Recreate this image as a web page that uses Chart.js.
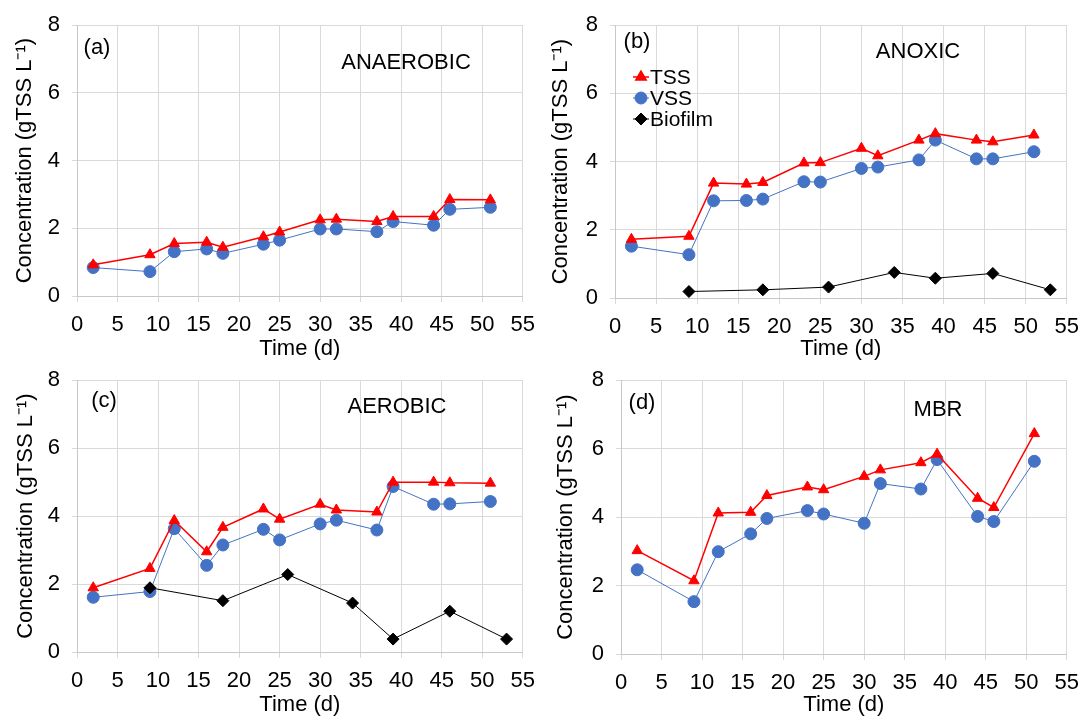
<!DOCTYPE html>
<html>
<head>
<meta charset="utf-8">
<script src="https://cdn.jsdelivr.net/npm/chart.js@4/dist/chart.umd.min.js"></script>
<style>
body{margin:0;background:#fff;width:1089px;height:721px;position:relative;overflow:hidden}
canvas{position:absolute}
</style>
</head>
<body>
<canvas id="ca" width="545" height="365" style="left:0;top:0"></canvas>
<canvas id="cb" width="544" height="365" style="left:545px;top:0"></canvas>
<canvas id="cc" width="545" height="366" style="left:0;top:355px"></canvas>
<canvas id="cd" width="544" height="366" style="left:545px;top:355px"></canvas>
<script>
// sampling days
const days = [2, 9, 12, 16, 18, 23, 25, 30, 32, 37, 39, 44, 46, 51];
const biofilmDays = [9, 18, 26, 34, 39, 46, 53];

// (a) anaerobic
const tssA = [0.92, 1.22, 1.55, 1.59, 1.44, 1.75, 1.89, 2.25, 2.27, 2.2, 2.35, 2.35, 2.85, 2.84];
const vssA = [0.84, 0.72, 1.31, 1.39, 1.26, 1.53, 1.65, 1.98, 1.98, 1.9, 2.2, 2.09, 2.56, 2.62];

// (b) anoxic
const tssB = [1.72, 1.81, 3.37, 3.34, 3.39, 3.96, 3.97, 4.39, 4.17, 4.63, 4.82, 4.63, 4.58, 4.78];
const vssB = [1.52, 1.27, 2.85, 2.86, 2.9, 3.41, 3.4, 3.8, 3.84, 4.05, 4.63, 4.08, 4.08, 4.29];
const bioB = [0.19, 0.24, 0.32, 0.75, 0.58, 0.72, 0.24];

// (c) aerobic
const tssC = [1.89, 2.46, 3.87, 2.95, 3.67, 4.21, 3.91, 4.35, 4.18, 4.12, 5.0, 5.0, 4.98, 4.97];
const vssC = [1.61, 1.78, 3.63, 2.55, 3.15, 3.61, 3.3, 3.77, 3.88, 3.59, 4.87, 4.35, 4.36, 4.43];
const bioC = [1.89, 1.51, 2.28, 1.44, 0.38, 1.2, 0.38];

// (d) MBR
const tssD = [3.02, 2.14, 4.12, 4.14, 4.63, 4.88, 4.8, 5.19, 5.38, 5.59, 5.84, 4.55, 4.28, 6.44];
const vssD = [2.46, 1.53, 2.99, 3.51, 3.96, 4.19, 4.09, 3.82, 4.98, 4.82, 5.68, 4.02, 3.87, 5.63];

const xTicks = [0, 5, 10, 15, 20, 25, 30, 35, 40, 45, 50, 55];
const yTicks = [0, 2, 4, 6, 8];

const FONT = "'Liberation Sans', Arial, sans-serif";

function pts(xs, ys){ return xs.map((x, i) => ({x: x, y: ys[i]})); }

function tss(vals){
  return {label: 'TSS', data: pts(days, vals), borderColor: '#ff0000', backgroundColor: '#ff0000',
    borderWidth: 1.5, pointStyle: 'triangle', pointRadius: 6, pointBorderWidth: 1, order: 1};
}
function vss(vals){
  return {label: 'VSS', data: pts(days, vals), borderColor: '#4472c4', backgroundColor: '#4472c4',
    borderWidth: 1, pointStyle: 'circle', pointRadius: 6, pointBorderWidth: 1, order: 2};
}
function bio(vals){
  return {label: 'Biofilm', data: pts(biofilmDays, vals), borderColor: '#000', backgroundColor: '#000',
    borderWidth: 1, pointStyle: 'rectRot', pointRadius: 6, pointBorderWidth: 1, order: 0};
}

// text labels + legend drawn on the canvas
const panelText = {
  id: 'panelText',
  afterDraw(chart, args, o){
    const ctx = chart.ctx;
    ctx.save();
    ctx.fillStyle = '#000';
    ctx.font = '22px ' + FONT;
    ctx.textAlign = 'center';
    ctx.textBaseline = 'middle';
    ctx.fillText(o.tag, o.tagX, o.tagY);
    ctx.fillText(o.name, o.nameX, o.nameY);
    if (o.legend) {
      ctx.textAlign = 'left';
      ctx.font = '21px ' + FONT;
      chart.data.datasets.forEach((ds, i) => {
        const y = o.legend.y + i * 21;
        const x = o.legend.x;
        ctx.strokeStyle = ds.borderColor;
        ctx.lineWidth = ds.borderWidth;
        ctx.beginPath();
        ctx.moveTo(x - 8, y);
        ctx.lineTo(x + 8, y);
        ctx.stroke();
        ctx.fillStyle = ds.backgroundColor;
        Chart.helpers.drawPoint(ctx, {pointStyle: ds.pointStyle, radius: 6, borderWidth: 1, rotation: 0}, x, y);
        ctx.fillStyle = '#000';
        ctx.fillText(ds.label, x + 9, y + 1);
      });
    }
    ctx.restore();
  }
};

function makeChart(id, datasets, area, w, h, txt, yTitleX){
  new Chart(document.getElementById(id), {
    type: 'line',
    data: {datasets: datasets},
    plugins: [panelText],
    options: {
      responsive: false,
      animation: false,
      layout: {padding: {left: 0, top: area.t, right: w - area.r, bottom: 0}},
      plugins: {legend: {display: false}, tooltip: {enabled: false}, panelText: txt},
      scales: {
        x: {
          type: 'linear', min: 0, max: 55,
          afterBuildTicks: s => { s.ticks = xTicks.map(v => ({value: v})); },
          afterFit: s => { s.height = h - area.b; },
          grid: {color: '#d9d9d9', lineWidth: 1, tickLength: 6},
          border: {color: '#c8c8c8'},
          ticks: {color: '#000', font: {family: FONT, size: 22}, padding: 10, maxRotation: 0},
          title: {display: true, text: 'Time (d)', color: '#000', font: {family: FONT, size: 22}, padding: {top: 0, bottom: 3}}
        },
        y: {
          min: 0, max: 8,
          afterBuildTicks: s => { s.ticks = yTicks.map(v => ({value: v})); },
          afterFit: s => { s.width = area.l; },
          grid: {color: '#d9d9d9', lineWidth: 1, tickLength: 5},
          border: {color: '#c8c8c8'},
          ticks: {color: '#000', font: {family: FONT, size: 22}, padding: 12},
          title: {display: true, text: 'Concentration (gTSS L\u207B\u00B9)', color: '#000', font: {family: FONT, size: 22}, padding: {top: yTitleX - 13, bottom: 0}}
        }
      }
    }
  });
}

makeChart('ca', [tss(tssA), vss(vssA)], {l: 77, t: 24, r: 530, b: 296}, 545, 365,
  {tag: '(a)', tagX: 97, tagY: 48, name: 'ANAEROBIC', nameX: 406, nameY: 63}, 25);
makeChart('cb', [tss(tssB), vss(vssB), bio(bioB)], {l: 70, t: 19, r: 523, b: 298}, 544, 365,
  {tag: '(b)', tagX: 92, tagY: 42, name: 'ANOXIC', nameX: 373, nameY: 52, legend: {x: 96, y: 77}}, 16);
makeChart('cc', [tss(tssC), vss(vssC), bio(bioC)], {l: 77, t: 19, r: 531, b: 297}, 545, 366,
  {tag: '(c)', tagX: 104, tagY: 46, name: 'AEROBIC', nameX: 397, nameY: 52}, 26);
makeChart('cd', [tss(tssD), vss(vssD)], {l: 76, t: 19, r: 529, b: 299}, 544, 366,
  {tag: '(d)', tagX: 97, tagY: 48, name: 'MBR', nameX: 393, nameY: 55}, 21);
</script>
</body>
</html>
